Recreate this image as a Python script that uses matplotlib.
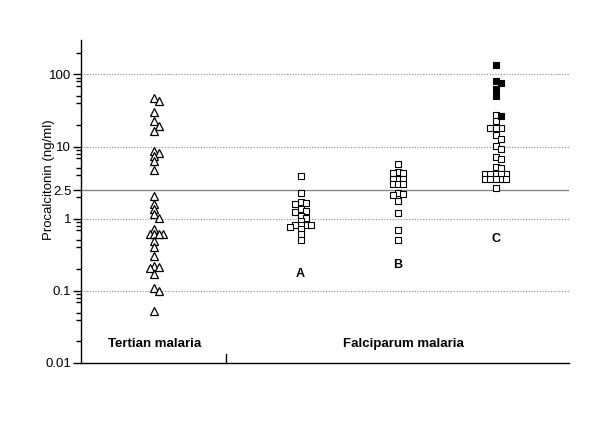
import numpy as np
import matplotlib
matplotlib.use("Agg")
import matplotlib.pyplot as plt
from matplotlib.ticker import LogLocator, FixedLocator, NullFormatter

plt.rcParams['font.family'] = ['Liberation Sans', 'DejaVu Sans']

# procalcitonin values (ng/ml)
tertian = [47.4, 42.6, 29.7, 22.3, 19.6, 16.3, 8.6, 8.2, 7.4, 6.3, 4.8,
           2.06, 1.61, 1.35, 1.15, 1.03, 0.71, 0.61, 0.61, 0.61, 0.61,
           0.49, 0.40, 0.30, 0.22, 0.21, 0.214, 0.17, 0.108, 0.099, 0.052]
group_a = [3.85, 2.24, 1.68, 1.63, 1.58, 1.35, 1.30, 1.22, 1.08, 1.01,
           0.92, 0.83, 0.81, 0.81, 0.81, 0.78, 0.71, 0.61, 0.50]
group_b = [5.65, 4.42, 4.24, 4.24, 3.58, 3.58, 3.58, 2.99, 2.99, 2.99,
           2.24, 2.17, 2.10, 1.75, 1.21, 0.70, 0.51]
group_c_open = [27.8, 22.5, 18.2, 18.2, 18.2, 14.3, 12.8, 10.1, 9.3, 7.2,
                6.8, 5.25, 5.08, 4.11, 4.11, 4.11, 4.11, 4.11,
                3.50, 3.50, 3.50, 3.50, 3.50, 2.69]
group_c_filled = [137, 82, 76, 62, 50, 26.4]

group_labels = ['A', 'B', 'C']
label_levels = [0.17, 0.23, 0.52]
yticks = [0.01, 0.1, 1, 2.5, 10, 100]
yticklabels = ['0.01', '0.1', '1', '2.5', '10', '100']
grid_levels = [0.1, 1, 10, 100]
cutoff = 2.5

fig = plt.figure(figsize=(6, 4.43), dpi=100)
ax = fig.add_axes([0.135, 0.1806, 0.813, 0.729])
ax.set_yscale('log')
ax.set_xlim(0, 10)
ax.set_ylim(0.01, 300)


def swarm(vals, xc, dx, dy):
    """simple beeswarm: spread overlapping points sideways (pixel space)"""
    vals = np.asarray(vals, dtype=float)
    pix = ax.transData.transform(np.column_stack([np.full(len(vals), xc), vals]))
    x0 = pix[0, 0]
    order = np.argsort(pix[:, 1])[::-1]
    placed = []
    xs = np.zeros(len(vals))
    for i in order:
        y = pix[i, 1]
        for k in [0, 1, -1, 2, -2, 3, -3, 4, -4]:
            x = x0 + k * dx
            if all(abs(x - px) >= dx * 0.95 or abs(y - py) >= dy for px, py in placed):
                break
        placed.append((x, y))
        xs[i] = x
    back = ax.transData.inverted().transform(np.column_stack([xs, pix[:, 1]]))
    return back[:, 0]


pos = [1.5, 4.5, 6.5, 8.5]

xt = swarm(tertian, pos[0], 4.5, 4.5)
ax.plot(xt, tertian, ls='none', marker='^', ms=5.2, mfc='white', mec='black', mew=0.9)

for xc, vals in zip(pos[1:3], [group_a, group_b]):
    xs = swarm(vals, xc, 5.4, 3.8)
    ax.plot(xs, vals, ls='none', marker='s', ms=4.0, mfc='white', mec='black', mew=0.8)

c_all = group_c_open + group_c_filled
xc_all = swarm(c_all, pos[3], 5.4, 3.8)
n_open = len(group_c_open)
ax.plot(xc_all[:n_open], group_c_open, ls='none', marker='s', ms=4.0,
        mfc='white', mec='black', mew=0.8)
ax.plot(xc_all[n_open:], group_c_filled, ls='none', marker='s', ms=4.4,
        mfc='black', mec='black', mew=0.8)

# reference lines
for g in grid_levels:
    ax.axhline(g, color='#888888', lw=0.8, ls=(0, (1, 1.5)), zorder=0)
ax.axhline(cutoff, color='#888888', lw=1.0, zorder=0)

# group letters
for xc, lab, yv in zip(pos[1:], group_labels, label_levels):
    ax.text(xc, yv, lab, ha='center', va='center', fontsize=9, fontweight='bold')

# axes styling
for s in ['top', 'right']:
    ax.spines[s].set_visible(False)
ax.spines['left'].set_linewidth(1.0)
ax.spines['bottom'].set_linewidth(1.0)
ax.set_xticks([])
ax.yaxis.set_major_locator(FixedLocator(yticks))
ax.set_yticklabels(yticklabels, fontsize=9.5)
ax.yaxis.set_minor_locator(LogLocator(base=10, subs=[2, 4, 5, 7, 8, 9]))
ax.yaxis.set_minor_formatter(NullFormatter())
ax.tick_params(axis='y', which='major', length=6, width=1.0, pad=1)
ax.tick_params(axis='y', which='minor', length=3.5, width=1.0)

# separator between malaria types and group titles
ax.plot([2.97, 2.97], [0.01, 0.0135], color='black', lw=1.0, clip_on=False)
ax.text(pos[0], 0.0185, 'Tertian malaria', ha='center', va='center',
        fontsize=9.5, fontweight='bold')
ax.text(6.6, 0.0185, 'Falciparum malaria', ha='center', va='center',
        fontsize=9.5, fontweight='bold')

fig.text(49 / 600, 1 - 180 / 443, 'Procalcitonin (ng/ml)', rotation=90,
         ha='center', va='center', fontsize=9.5)

fig.savefig('out.png', dpi=100, facecolor='white')
